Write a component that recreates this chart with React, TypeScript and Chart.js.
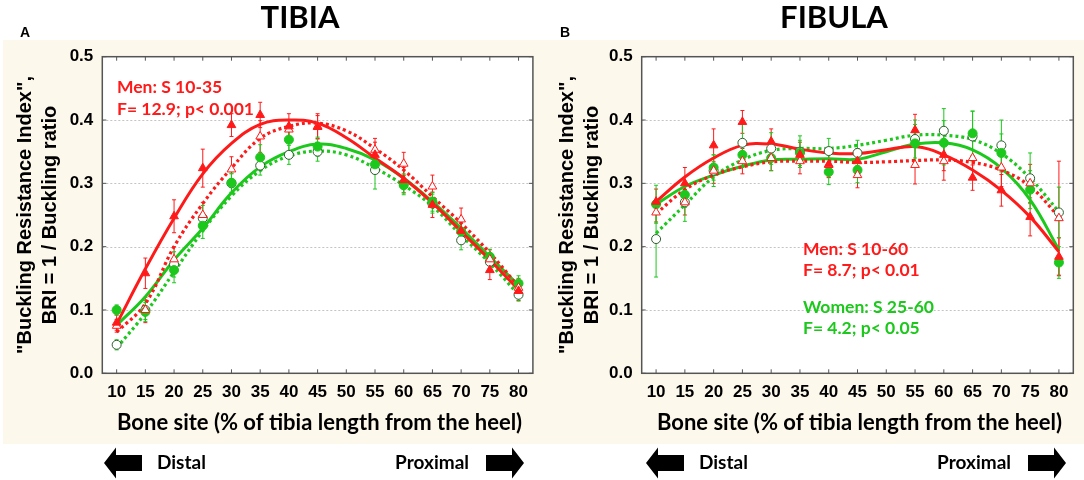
import React, { useEffect, useRef } from 'react';
import Chart from 'chart.js/auto';

// axis ticks
const xTicks = [10, 15, 20, 25, 30, 35, 40, 45, 50, 55, 60, 65, 70, 75, 80];
const yTicks = [0, 0.1, 0.2, 0.3, 0.4, 0.5];

// measured bone sites (no data at 50) and fitted-curve sites
const sites = [10, 15, 20, 25, 30, 35, 40, 45, 55, 60, 65, 70, 75, 80];
const fitSites = [10, 15, 20, 25, 30, 35, 40, 45, 50, 55, 60, 65, 70, 75, 80];

// TIBIA - points
const tibiaMenFilled = [0.08, 0.158, 0.248, 0.324, 0.392, 0.408, 0.39, 0.389, 0.345, 0.305, 0.266, 0.225, 0.163, 0.13];
const tibiaMenFilledErr = [0.012, 0.024, 0.026, 0.03, 0.018, 0.02, 0.02, 0.018, 0.02, 0.02, 0.02, 0.02, 0.015, 0.015];
const tibiaMenOpen = [0.075, 0.1, 0.18, 0.25, 0.322, 0.374, 0.385, 0.39, 0.353, 0.331, 0.295, 0.243, 0.18, 0.135];
const tibiaMenOpenErr = [0.01, 0.02, 0.02, 0.02, 0.02, 0.025, 0.015, 0.02, 0.018, 0.018, 0.018, 0.018, 0.015, 0.015];
const tibiaWomenFilled = [0.1, 0.097, 0.163, 0.233, 0.301, 0.341, 0.369, 0.358, 0.33, 0.297, 0.271, 0.224, 0.184, 0.142];
const tibiaWomenFilledErr = [0.008, 0.015, 0.02, 0.02, 0.015, 0.02, 0.02, 0.015, 0.015, 0.015, 0.015, 0.015, 0.012, 0.012];
const tibiaWomenOpen = [0.045, 0.1, 0.172, 0.245, 0.3, 0.328, 0.345, 0.35, 0.321, 0.3, 0.268, 0.21, 0.176, 0.124];
const tibiaWomenOpenErr = [0.008, 0.015, 0.02, 0.02, 0.015, 0.015, 0.015, 0.015, 0.03, 0.015, 0.015, 0.015, 0.012, 0.01];

// TIBIA - fitted curves
const tibiaMenFit = [0.078, 0.165, 0.245, 0.315, 0.363, 0.393, 0.4, 0.395, 0.372, 0.34, 0.308, 0.269, 0.224, 0.179, 0.132];
const tibiaMenOpenFit = [0.065, 0.11, 0.2, 0.268, 0.324, 0.371, 0.39, 0.395, 0.383, 0.355, 0.321, 0.279, 0.237, 0.19, 0.137];
const tibiaWomenFit = [0.076, 0.121, 0.179, 0.229, 0.285, 0.326, 0.35, 0.362, 0.355, 0.337, 0.308, 0.271, 0.229, 0.184, 0.139];
const tibiaWomenOpenFit = [0.04, 0.095, 0.16, 0.225, 0.28, 0.32, 0.343, 0.351, 0.345, 0.324, 0.297, 0.264, 0.218, 0.174, 0.124];

// FIBULA - points
const fibulaMenFilled = [0.271, 0.3, 0.36, 0.397, 0.366, 0.345, 0.33, 0.335, 0.384, 0.345, 0.309, 0.289, 0.247, 0.184];
const fibulaMenFilledErr = [0.02, 0.025, 0.026, 0.018, 0.02, 0.02, 0.02, 0.02, 0.025, 0.025, 0.02, 0.025, 0.03, 0.03];
const fibulaMenOpen = [0.254, 0.27, 0.32, 0.335, 0.34, 0.335, 0.329, 0.313, 0.329, 0.335, 0.34, 0.325, 0.3, 0.245];
const fibulaMenOpenErr = [0.015, 0.02, 0.02, 0.02, 0.02, 0.02, 0.02, 0.02, 0.03, 0.03, 0.03, 0.03, 0.03, 0.09];
const fibulaWomenFilled = [0.267, 0.282, 0.325, 0.345, 0.34, 0.348, 0.318, 0.321, 0.363, 0.364, 0.379, 0.348, 0.29, 0.175];
const fibulaWomenFilledErr = [0.03, 0.02, 0.02, 0.02, 0.02, 0.02, 0.02, 0.02, 0.03, 0.035, 0.035, 0.03, 0.03, 0.025];
const fibulaWomenOpen = [0.212, 0.27, 0.32, 0.364, 0.355, 0.35, 0.351, 0.348, 0.37, 0.383, 0.374, 0.36, 0.308, 0.254];
const fibulaWomenOpenErr = [0.06, 0.03, 0.025, 0.03, 0.025, 0.025, 0.02, 0.02, 0.03, 0.035, 0.04, 0.04, 0.04, 0.04];

// FIBULA - fitted curves
const fibulaMenFit = [0.271, 0.31, 0.34, 0.36, 0.362, 0.354, 0.348, 0.347, 0.353, 0.358, 0.345, 0.321, 0.289, 0.247, 0.192];
const fibulaMenOpenFit = [0.252, 0.29, 0.313, 0.326, 0.334, 0.335, 0.335, 0.333, 0.334, 0.336, 0.337, 0.333, 0.321, 0.295, 0.247];
const fibulaWomenFit = [0.267, 0.295, 0.313, 0.327, 0.337, 0.338, 0.339, 0.338, 0.35, 0.362, 0.364, 0.353, 0.324, 0.274, 0.195];
const fibulaWomenOpenFit = [0.221, 0.266, 0.31, 0.337, 0.352, 0.355, 0.355, 0.36, 0.368, 0.376, 0.376, 0.369, 0.347, 0.308, 0.255];

const RED = '#ff1a1a';
const GREEN = '#1cc81c';
const CREAM = '#fdf8ec';
const W = 542;
const H = 480;
const PLOT_TOP = 56.7;
const PLOT_BOTTOM = 373.3;

type Note = { text: string; color: string; x: number; y: number };

type Panel = {
  title: string;
  titleX: number;
  letter: string;
  letterX: number;
  plotLeft: number;
  plotRight: number;
  creamLeft: number;
  notes: Note[];
  menFilled: number[];
  menFilledErr: number[];
  menOpen: number[];
  menOpenErr: number[];
  womenFilled: number[];
  womenFilledErr: number[];
  womenOpen: number[];
  womenOpenErr: number[];
  menFit: number[];
  menOpenFit: number[];
  womenFit: number[];
  womenOpenFit: number[];
};

const tibia: Panel = {
  title: 'TIBIA',
  titleX: 300,
  letter: 'A',
  letterX: 25,
  plotLeft: 102.3,
  plotRight: 532.9,
  creamLeft: 3,
  notes: [
    { text: 'Men: S 10-35', color: RED, x: 117, y: 87 },
    { text: 'F= 12.9; p< 0.001', color: RED, x: 117, y: 109 },
  ],
  menFilled: tibiaMenFilled, menFilledErr: tibiaMenFilledErr,
  menOpen: tibiaMenOpen, menOpenErr: tibiaMenOpenErr,
  womenFilled: tibiaWomenFilled, womenFilledErr: tibiaWomenFilledErr,
  womenOpen: tibiaWomenOpen, womenOpenErr: tibiaWomenOpenErr,
  menFit: tibiaMenFit, menOpenFit: tibiaMenOpenFit,
  womenFit: tibiaWomenFit, womenOpenFit: tibiaWomenOpenFit,
};

const fibula: Panel = {
  title: 'FIBULA',
  titleX: 292,
  letter: 'B',
  letterX: 23,
  plotLeft: 99.7,
  plotRight: 531.3,
  creamLeft: 0,
  notes: [
    { text: 'Men: S 10-60', color: RED, x: 261, y: 249 },
    { text: 'F= 8.7; p< 0.01', color: RED, x: 261, y: 270 },
    { text: 'Women: S 25-60', color: GREEN, x: 261, y: 307 },
    { text: 'F= 4.2; p< 0.05', color: GREEN, x: 261, y: 328 },
  ],
  menFilled: fibulaMenFilled, menFilledErr: fibulaMenFilledErr,
  menOpen: fibulaMenOpen, menOpenErr: fibulaMenOpenErr,
  womenFilled: fibulaWomenFilled, womenFilledErr: fibulaWomenFilledErr,
  womenOpen: fibulaWomenOpen, womenOpenErr: fibulaWomenOpenErr,
  menFit: fibulaMenFit, menOpenFit: fibulaMenOpenFit,
  womenFit: fibulaWomenFit, womenOpenFit: fibulaWomenOpenFit,
};

const pts = (xs: number[], ys: number[]) => xs.map((x, i) => ({ x, y: ys[i] }));

function pointSet(values: number[], errors: number[], style: string, fill: string, border: string, color: string, radius: number) {
  return {
    data: pts(sites, values),
    errors,
    errorColor: color,
    showLine: false,
    pointStyle: style,
    pointRadius: radius,
    pointBackgroundColor: fill,
    pointBorderColor: border,
    pointBorderWidth: 1,
    order: 1,
  };
}

function fitSet(values: number[], color: string, dotted: boolean) {
  return {
    data: pts(fitSites, values),
    showLine: true,
    pointRadius: 0,
    borderColor: color,
    borderWidth: dotted ? 3.2 : 3,
    borderDash: dotted ? [3, 3] : [],
    tension: 0.4,
    fill: false,
    order: 2,
  };
}

function drawArrow(ctx: CanvasRenderingContext2D, tip: number, tail: number, cy: number) {
  const dir = tail > tip ? 1 : -1;
  const head = 12 * dir;
  ctx.beginPath();
  ctx.moveTo(tip, cy);
  ctx.lineTo(tip + head, cy - 15.5);
  ctx.lineTo(tip + head, cy - 8);
  ctx.lineTo(tail, cy - 8);
  ctx.lineTo(tail, cy + 8);
  ctx.lineTo(tip + head, cy + 8);
  ctx.lineTo(tip + head, cy + 15.5);
  ctx.closePath();
  ctx.fillStyle = '#000';
  ctx.fill();
}

function buildConfig(panel: Panel): any {
  const decor = {
    id: 'decor',
    beforeDraw(chart: any) {
      const { ctx, chartArea: a } = chart;
      ctx.save();
      ctx.fillStyle = '#fff';
      ctx.fillRect(0, 0, W, H);
      ctx.fillStyle = CREAM;
      ctx.fillRect(panel.creamLeft, 40, W - panel.creamLeft, 404);
      ctx.fillStyle = '#fff';
      ctx.fillRect(a.left, a.top, a.right - a.left, a.bottom - a.top);
      ctx.restore();
    },
    beforeDatasetsDraw(chart: any) {
      const { ctx, chartArea: a, scales } = chart;
      ctx.save();
      // dotted horizontal grid
      ctx.strokeStyle = '#c4c4c4';
      ctx.lineWidth = 1;
      ctx.setLineDash([2, 2]);
      yTicks.slice(1, -1).forEach((v) => {
        const y = Math.round(scales.y.getPixelForValue(v)) + 0.5;
        ctx.beginPath();
        ctx.moveTo(a.left, y);
        ctx.lineTo(a.right, y);
        ctx.stroke();
      });
      ctx.setLineDash([]);
      // error bars
      chart.data.datasets.forEach((ds: any, i: number) => {
        if (!ds.errors) return;
        const meta = chart.getDatasetMeta(i);
        ctx.strokeStyle = ds.errorColor;
        ctx.lineWidth = 1;
        meta.data.forEach((el: any, j: number) => {
          const v = ds.data[j].y;
          const e = ds.errors[j];
          const t = scales.y.getPixelForValue(v + e);
          const b = scales.y.getPixelForValue(v - e);
          ctx.beginPath();
          ctx.moveTo(el.x, t);
          ctx.lineTo(el.x, b);
          ctx.moveTo(el.x - 2, t);
          ctx.lineTo(el.x + 2, t);
          ctx.moveTo(el.x - 2, b);
          ctx.lineTo(el.x + 2, b);
          ctx.stroke();
        });
      });
      ctx.restore();
    },
    afterDatasetsDraw(chart: any) {
      const { ctx, chartArea: a, scales } = chart;
      ctx.save();
      ctx.strokeStyle = '#555';
      ctx.lineWidth = 1.5;
      ctx.strokeRect(a.left, a.top, a.right - a.left, a.bottom - a.top);
      ctx.lineWidth = 1;
      ctx.beginPath();
      xTicks.forEach((v) => {
        const x = scales.x.getPixelForValue(v);
        ctx.moveTo(x, a.bottom);
        ctx.lineTo(x, a.bottom - 4);
        ctx.moveTo(x, a.top);
        ctx.lineTo(x, a.top + 4);
      });
      yTicks.forEach((v) => {
        const y = scales.y.getPixelForValue(v);
        ctx.moveTo(a.left, y);
        ctx.lineTo(a.left + 4, y);
        ctx.moveTo(a.right, y);
        ctx.lineTo(a.right - 4, y);
      });
      ctx.stroke();
      ctx.restore();
    },
    afterDraw(chart: any) {
      const { ctx, chartArea: a } = chart;
      const midY = (a.top + a.bottom) / 2;
      ctx.save();
      ctx.fillStyle = '#000';
      // title
      ctx.font = 'bold 31px Lato';
      ctx.textAlign = 'center';
      ctx.textBaseline = 'alphabetic';
      ctx.fillText(panel.title, panel.titleX, 27.5);
      // panel letter
      ctx.font = 'bold 14px "Liberation Sans"';
      ctx.fillText(panel.letter, panel.letterX, 36.5);
      // y title
      ctx.font = 'bold 20px "Liberation Sans"';
      ctx.textBaseline = 'middle';
      ctx.save();
      ctx.translate(25, midY);
      ctx.rotate(-Math.PI / 2);
      ctx.fillText('"Buckling Resistance Index",', 0, 0);
      ctx.restore();
      ctx.save();
      ctx.translate(50, midY);
      ctx.rotate(-Math.PI / 2);
      ctx.fillText('BRI = 1 / Buckling ratio', 0, 0);
      ctx.restore();
      // x title
      ctx.font = 'bold 22px Lato';
      ctx.fillText('Bone site (% of tibia length from the heel)', (a.left + a.right) / 2 + 2, 423);
      // notes
      ctx.textAlign = 'left';
      ctx.font = 'bold 17.5px Lato';
      panel.notes.forEach((n) => {
        ctx.fillStyle = n.color;
        ctx.fillText(n.text, n.x, n.y);
      });
      // distal / proximal arrows
      ctx.fillStyle = '#000';
      ctx.font = 'bold 19px Lato';
      drawArrow(ctx, 104, 142, 463);
      ctx.fillText('Distal', 157, 463);
      ctx.textAlign = 'right';
      ctx.fillText('Proximal', 469, 463);
      drawArrow(ctx, 524, 486, 463);
      ctx.restore();
    },
  };

  const tickFont = { family: '"Liberation Sans", Arial, sans-serif', weight: 'bold' as const, size: 17 };

  return {
    type: 'scatter',
    data: {
      datasets: [
        pointSet(panel.menFilled, panel.menFilledErr, 'triangle', RED, RED, RED, 5),
        pointSet(panel.menOpen, panel.menOpenErr, 'triangle', '#fff', RED, RED, 5),
        pointSet(panel.womenFilled, panel.womenFilledErr, 'circle', GREEN, GREEN, GREEN, 4.5),
        pointSet(panel.womenOpen, panel.womenOpenErr, 'circle', '#fff', '#2f5f2f', GREEN, 4.5),
        fitSet(panel.menFit, RED, false),
        fitSet(panel.menOpenFit, RED, true),
        fitSet(panel.womenFit, GREEN, false),
        fitSet(panel.womenOpenFit, GREEN, true),
      ],
    },
    options: {
      responsive: false,
      maintainAspectRatio: false,
      animation: false,
      layout: { padding: { left: 0, top: PLOT_TOP, right: W - panel.plotRight, bottom: 0 } },
      plugins: { legend: { display: false }, tooltip: { enabled: false } },
      scales: {
        x: {
          type: 'linear',
          min: 7.5,
          max: 82.5,
          afterBuildTicks: (s: any) => { s.ticks = xTicks.map((v) => ({ value: v })); },
          afterFit: (s: any) => { s.height = H - PLOT_BOTTOM; },
          grid: { display: false, drawTicks: false, tickLength: 0 },
          border: { display: false },
          ticks: { padding: 9, color: '#000', font: tickFont, autoSkip: false, maxRotation: 0, callback: (v: any) => String(v) },
        },
        y: {
          type: 'linear',
          min: 0,
          max: 0.5,
          afterBuildTicks: (s: any) => { s.ticks = yTicks.map((v) => ({ value: v })); },
          afterFit: (s: any) => { s.width = panel.plotLeft; },
          grid: { display: false, drawTicks: false, tickLength: 0 },
          border: { display: false },
          ticks: { padding: 9, color: '#000', font: tickFont, callback: (v: any) => Number(v).toFixed(1) },
        },
      },
    },
    plugins: [decor],
  };
}

function PanelChart({ panel }: { panel: Panel }) {
  const canvasRef = useRef<HTMLCanvasElement>(null);

  useEffect(() => {
    if (!canvasRef.current) return;
    const chart = new Chart(canvasRef.current, buildConfig(panel));
    return () => chart.destroy();
  }, [panel]);

  return <canvas ref={canvasRef} width={W} height={H} style={{ display: 'block', width: W, height: H }} />;
}

export default function App() {
  return (
    <div style={{ position: 'fixed', left: 0, top: 0, width: 2 * W, height: H, display: 'flex', background: '#fff' }}>
      <PanelChart panel={tibia} />
      <PanelChart panel={fibula} />
    </div>
  );
}
